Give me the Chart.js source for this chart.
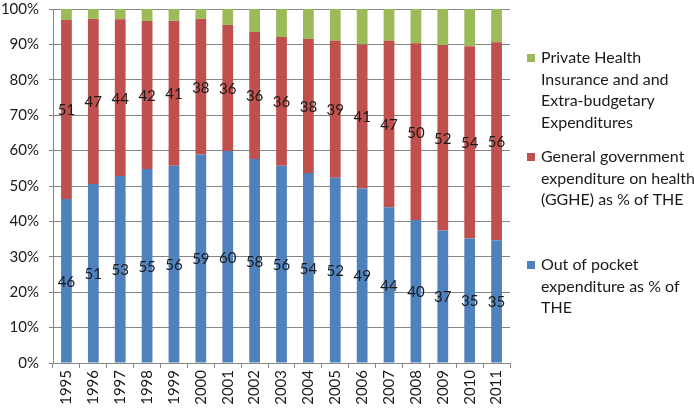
<!DOCTYPE html>
<html>
<head>
<meta charset="utf-8">
<script src="https://cdn.jsdelivr.net/npm/chart.js@4"></script>
<style>
  html, body { margin: 0; padding: 0; background: #fff; }
  #wrap { width: 694px; height: 409px; }
</style>
</head>
<body>
<div id="wrap"><canvas id="chart"></canvas></div>
<script>
const years = ['1995', '1996', '1997', '1998', '1999', '2000', '2001', '2002', '2003',
  '2004', '2005', '2006', '2007', '2008', '2009', '2010', '2011'];

// Out of pocket expenditure as % of THE
const outOfPocket = [46.3, 50.6, 52.8, 54.8, 55.7, 58.9, 59.9, 57.6, 55.7,
  53.7, 52.3, 49.3, 44.0, 40.4, 37.4, 35.2, 34.7];
// General government expenditure on health (GGHE) as % of THE
const gghe = [50.6, 46.6, 44.3, 41.8, 41.0, 38.3, 35.6, 35.9, 36.4,
  37.8, 38.7, 40.7, 47.0, 49.9, 52.4, 54.3, 55.9];
// Private Health Insurance and Extra-budgetary Expenditures
const privateIns = [3.1, 2.8, 2.9, 3.4, 3.3, 2.8, 4.5, 6.5, 7.9,
  8.5, 9.0, 10.0, 9.0, 9.7, 10.2, 10.5, 9.4];

const yTicks = [0, 10, 20, 30, 40, 50, 60, 70, 80, 90, 100];

const legendText = [
  ['Out of pocket', 'expenditure as % of', 'THE'],
  ['General government', 'expenditure on health', '(GGHE) as % of THE'],
  ['Private Health', 'Insurance and and', 'Extra-budgetary', 'Expenditures']
];

const FONT = 'Lato, "Liberation Sans", sans-serif';
const GRID = '#868686';

// centred value labels on the blue and red segments
const segmentLabels = {
  id: 'segmentLabels',
  afterDatasetsDraw(chart) {
    const ctx = chart.ctx;
    ctx.save();
    ctx.font = '15px ' + FONT;
    ctx.fillStyle = '#1a1a1a';
    ctx.textAlign = 'center';
    ctx.textBaseline = 'middle';
    [0, 1].forEach((di) => {
      const meta = chart.getDatasetMeta(di);
      meta.data.forEach((bar, i) => {
        const v = chart.data.datasets[di].data[i];
        ctx.fillText(Math.round(v), bar.x, (bar.y + bar.base) / 2 + 1);
      });
    });
    ctx.restore();
  }
};

// legend at the right, entries listed top to bottom in reverse order
const sideLegend = {
  id: 'sideLegend',
  afterDraw(chart) {
    const ctx = chart.ctx;
    const starts = [265, 157, 58];
    const x = 527;
    ctx.save();
    ctx.font = '16px ' + FONT;
    ctx.textBaseline = 'middle';
    chart.data.datasets.forEach((ds, di) => {
      const y0 = starts[di];
      ctx.fillStyle = ds.backgroundColor;
      ctx.fillRect(x, y0 - 4, 8, 8);
      ctx.fillStyle = '#1a1a1a';
      legendText[di].forEach((line, li) => {
        ctx.fillText(line, x + 14, y0 + li * 21.5);
      });
    });
    ctx.restore();
  }
};

const ctx = document.getElementById('chart').getContext('2d');

// eslint-disable-next-line no-undef
new Chart(ctx, {
  type: 'bar',
  data: {
    labels: years,
    datasets: [
      {
        label: legendText[0].join(' '),
        backgroundColor: '#4F81BD',
        data: outOfPocket,
      },
      {
        label: legendText[1].join(' '),
        backgroundColor: '#C0504D',
        data: gghe,
      },
      {
        label: legendText[2].join(' '),
        backgroundColor: '#9BBB59',
        data: privateIns,
      }
    ],
  },
  options: {
    responsive: true,
    maintainAspectRatio: false,
    animation: false,
    layout: { padding: { top: 9, right: 184, left: 0, bottom: 0 } },
    datasets: { bar: { barPercentage: 0.4, categoryPercentage: 1 } },
    plugins: {
      legend: { display: false },
      tooltip: { enabled: false }
    },
    scales: {
      x: {
        stacked: true,
        afterFit: (scale) => { scale.height = 46; },
        grid: {
          display: true,
          drawOnChartArea: false,
          drawTicks: true,
          tickLength: 5,
          color: GRID,
          offset: true
        },
        border: { color: GRID },
        ticks: {
          color: '#1a1a1a',
          font: { family: FONT, size: 15 },
          maxRotation: 90,
          minRotation: 90,
          padding: 2,
          autoSkip: false
        }
      },
      y: {
        stacked: true,
        min: 0,
        max: 100,
        afterFit: (scale) => {
          scale.width = 53;
          scale.paddingTop = 0;
          scale.paddingBottom = 0;
        },
        afterBuildTicks: (scale) => {
          scale.ticks = yTicks.map((v) => ({ value: v }));
        },
        grid: {
          color: GRID,
          tickLength: 4
        },
        border: { color: GRID },
        ticks: {
          color: '#1a1a1a',
          font: { family: FONT, size: 15 },
          padding: 10,
          callback: (v) => v + '%'
        }
      }
    }
  },
  plugins: [segmentLabels, sideLegend]
});
</script>
</body>
</html>
